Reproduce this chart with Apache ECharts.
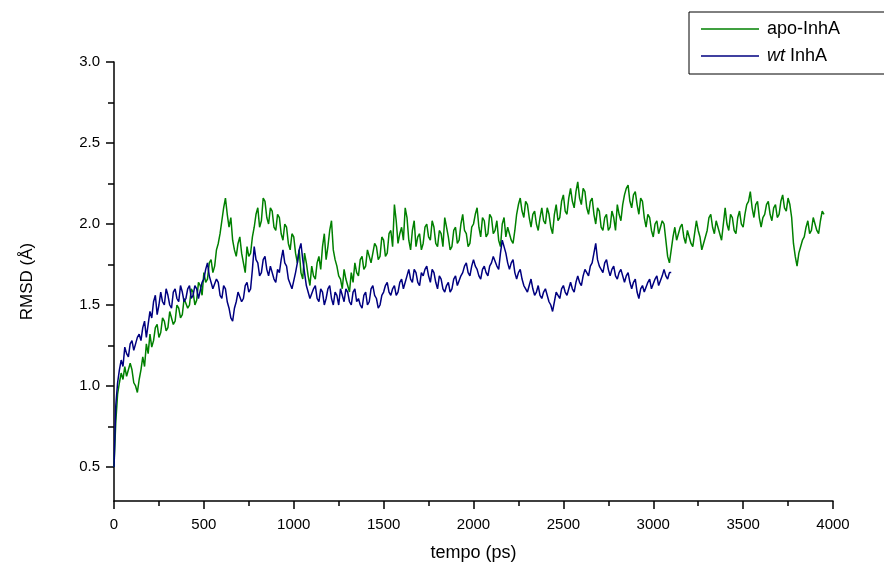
<!DOCTYPE html>
<html>
<head>
<meta charset="utf-8">
<script src="https://cdn.jsdelivr.net/npm/echarts@6/dist/echarts.min.js"></script>
<style>
  html, body { margin: 0; padding: 0; background: #fff; }
  #main { width: 884px; height: 567px; }
</style>
</head>
<body>
<div id="main"></div>
<script>
// RMSD (Å), one value every 10 ps
var timeStep = 10;

var apoInhA = [
  0.50, 0.78, 0.95, 1.02, 1.08, 1.04, 1.12, 1.06, 1.05, 1.14,
  1.10, 1.02, 1.00, 0.96, 1.04, 1.10, 1.18, 1.12, 1.26, 1.20,
  1.32, 1.24, 1.28, 1.36, 1.38, 1.30, 1.33, 1.42, 1.40, 1.34,
  1.36, 1.46, 1.45, 1.38, 1.40, 1.50, 1.48, 1.42, 1.44, 1.54,
  1.55, 1.48, 1.50, 1.60, 1.58, 1.50, 1.53, 1.64, 1.62, 1.56,
  1.70, 1.64, 1.66, 1.76, 1.78, 1.70, 1.74, 1.84, 1.88, 1.94,
  2.02, 2.10, 2.16, 2.06, 1.98, 2.04, 1.90, 1.84, 1.80, 1.88,
  1.92, 1.82, 1.76, 1.70, 1.86, 1.80, 1.82, 1.92, 1.98, 2.06,
  2.10, 1.98, 2.02, 2.16, 2.14, 2.04, 2.00, 2.10, 2.08, 1.98,
  1.96, 2.06, 2.04, 1.94, 1.90, 2.00, 1.98, 1.88, 1.84, 1.94,
  1.92, 1.82, 1.76, 1.84, 1.70, 1.66, 1.82, 1.76, 1.68, 1.62,
  1.74, 1.68, 1.66, 1.76, 1.80, 1.72, 1.86, 1.94, 1.78, 1.86,
  1.96, 2.02, 1.84, 1.78, 1.74, 1.68, 1.66, 1.60, 1.72, 1.66,
  1.62, 1.58, 1.70, 1.64, 1.76, 1.70, 1.68, 1.78, 1.80, 1.72,
  1.74, 1.84, 1.84, 1.76, 1.76, 1.88, 1.86, 1.78, 1.80, 1.92,
  1.90, 1.80, 1.82, 1.94, 1.96, 1.86, 2.12, 2.02, 1.88, 1.94,
  1.98, 1.90, 2.10, 2.04, 1.90, 1.84, 1.96, 2.02, 1.86, 1.92,
  1.94, 1.84, 1.88, 1.98, 2.00, 1.92, 1.90, 2.02, 1.98, 1.88,
  1.86, 1.96, 1.94, 1.86, 2.04, 1.98, 1.92, 1.84, 1.86, 1.96,
  1.98, 1.88, 1.90, 2.00, 2.06, 1.96, 1.94, 1.86, 1.88, 1.98,
  2.00, 2.06, 2.10, 1.98, 1.92, 2.04, 2.02, 1.92, 1.94, 2.06,
  2.04, 1.94, 1.96, 2.02, 1.90, 1.86, 2.00, 2.04, 1.92, 1.98,
  1.98, 1.90, 1.88, 1.96, 2.06, 2.12, 2.16, 2.08, 2.04, 2.14,
  2.12, 2.04, 1.98, 2.06, 2.08, 2.00, 1.96, 2.04, 2.10, 2.02,
  2.00, 2.10, 2.06, 1.98, 1.94, 2.06, 2.12, 2.02, 2.04, 2.14,
  2.18, 2.08, 2.06, 2.16, 2.22, 2.14, 2.10, 2.20, 2.26, 2.16,
  2.12, 2.22, 2.20, 2.10, 2.06, 2.14, 2.16, 2.06, 2.00, 2.10,
  2.08, 1.98, 1.96, 2.04, 2.06, 1.96, 1.98, 2.08, 2.04, 1.96,
  2.12, 2.06, 2.02, 2.12, 2.18, 2.22, 2.24, 2.14, 2.10, 2.18,
  2.20, 2.12, 2.06, 2.16, 2.14, 2.04, 1.98, 2.06, 2.04, 1.96,
  1.92, 2.00, 2.02, 1.94, 1.94, 2.02, 2.00, 1.90, 1.80, 1.76,
  1.84, 1.92, 1.98, 1.90, 1.90, 1.98, 2.00, 1.92, 1.88, 1.96,
  1.96, 1.88, 1.86, 1.94, 2.02, 1.96, 1.92, 1.84, 1.84, 1.92,
  1.96, 2.04, 2.06, 1.98, 1.94, 2.02, 2.02, 1.94, 1.90, 2.00,
  2.10, 2.00, 1.96, 2.06, 2.04, 1.96, 1.94, 2.04, 2.08, 2.00,
  1.98, 2.06, 2.12, 2.14, 2.20, 2.10, 2.04, 2.12, 2.14, 2.04,
  1.98, 2.04, 2.06, 2.12, 2.14, 2.06, 2.02, 2.10, 2.12, 2.04,
  2.06, 2.14, 2.18, 2.10, 2.08, 2.16, 2.12, 2.04, 1.88, 1.80,
  1.74, 1.82, 1.82, 1.90, 1.92, 1.98, 2.02, 1.94, 1.96, 2.04,
  2.04, 1.96, 1.94, 2.02, 2.08, 2.06
];

var wtInhA = [
  0.50, 0.88, 1.02, 1.10, 1.16, 1.12, 1.24, 1.20, 1.18, 1.26,
  1.28, 1.22, 1.22, 1.30, 1.32, 1.28, 1.36, 1.40, 1.30, 1.38,
  1.46, 1.42, 1.52, 1.56, 1.44, 1.50, 1.58, 1.52, 1.50, 1.60,
  1.56, 1.50, 1.48, 1.58, 1.60, 1.54, 1.52, 1.62, 1.58, 1.52,
  1.54, 1.60, 1.62, 1.54, 1.56, 1.62, 1.60, 1.54, 1.55, 1.64,
  1.66, 1.72, 1.76, 1.68, 1.68, 1.60, 1.60, 1.66, 1.64, 1.56,
  1.54, 1.62, 1.60, 1.52, 1.48, 1.42, 1.40, 1.48, 1.52, 1.58,
  1.58, 1.52, 1.54, 1.62, 1.64, 1.58, 1.60, 1.72, 1.86, 1.78,
  1.76, 1.68, 1.70, 1.78, 1.80, 1.72, 1.68, 1.74, 1.74, 1.66,
  1.64, 1.72, 1.70, 1.78, 1.84, 1.76, 1.74, 1.66, 1.66, 1.60,
  1.60, 1.70, 1.76, 1.84, 1.88, 1.78, 1.70, 1.62, 1.58, 1.54,
  1.54, 1.60, 1.62, 1.54, 1.52, 1.60, 1.58, 1.50, 1.54, 1.60,
  1.62, 1.54, 1.50, 1.58, 1.56, 1.50, 1.60, 1.56, 1.52, 1.60,
  1.58, 1.52, 1.50, 1.58, 1.60, 1.52, 1.54, 1.50, 1.48, 1.56,
  1.58, 1.50, 1.52, 1.60, 1.62, 1.56, 1.54, 1.48, 1.50, 1.56,
  1.58, 1.62, 1.64, 1.58, 1.56, 1.60, 1.62, 1.56, 1.58, 1.64,
  1.66, 1.60, 1.60, 1.68, 1.72, 1.66, 1.64, 1.72, 1.70, 1.64,
  1.62, 1.70, 1.68, 1.72, 1.74, 1.68, 1.64, 1.72, 1.70, 1.64,
  1.60, 1.68, 1.66, 1.60, 1.58, 1.62, 1.64, 1.58, 1.60, 1.66,
  1.68, 1.62, 1.62, 1.68, 1.70, 1.74, 1.76, 1.70, 1.68, 1.74,
  1.78, 1.74, 1.72, 1.68, 1.66, 1.72, 1.74, 1.70, 1.68, 1.74,
  1.76, 1.80, 1.80, 1.74, 1.72, 1.82, 1.90, 1.86, 1.82, 1.76,
  1.72, 1.76, 1.78, 1.70, 1.66, 1.70, 1.72, 1.66, 1.62, 1.60,
  1.58, 1.62, 1.66, 1.60, 1.56, 1.58, 1.62, 1.56, 1.54, 1.58,
  1.60, 1.56, 1.52, 1.50, 1.46, 1.52, 1.58, 1.56, 1.54, 1.60,
  1.62, 1.58, 1.56, 1.60, 1.64, 1.60, 1.58, 1.64, 1.68, 1.64,
  1.62, 1.68, 1.72, 1.70, 1.68, 1.74, 1.76, 1.82, 1.88, 1.78,
  1.74, 1.72, 1.70, 1.76, 1.78, 1.72, 1.68, 1.72, 1.74, 1.68,
  1.66, 1.70, 1.72, 1.68, 1.64, 1.68, 1.70, 1.64, 1.60, 1.64,
  1.66, 1.58, 1.54, 1.60, 1.62, 1.58, 1.58, 1.64, 1.66, 1.60,
  1.60, 1.66, 1.68, 1.62, 1.62, 1.68, 1.72, 1.68, 1.66, 1.70,
  1.70
];

var yLabels = [0.5, 1.0, 1.5, 2.0, 2.5, 3.0];
var yMinorTicks = [0.75, 1.25, 1.75, 2.25, 2.75];
var xMinorTicks = [250, 750, 1250, 1750, 2250, 2750, 3250, 3750];

function toPairs(values) {
  return values.map(function (v, i) { return [i * timeStep, v]; });
}

var axisBlack = { color: '#000', width: 1.5 };

var myChart = echarts.init(document.getElementById('main'));

myChart.setOption({
  animation: false,
  textStyle: { fontFamily: 'Liberation Sans' },
  grid: { left: 114, right: 51, top: 62, bottom: 66 },
  legend: {
    orient: 'vertical',
    left: 689,
    top: 12,
    padding: [8, 60, 9, 12],
    itemGap: 9,
    itemWidth: 58,
    itemHeight: 1.5,
    icon: 'rect',
    borderColor: '#000',
    borderWidth: 1,
    textStyle: {
      fontSize: 18,
      lineHeight: 18,
      color: '#000',
      padding: [0, 0, 0, 3],
      rich: {
        i: { fontStyle: 'italic', fontSize: 18, lineHeight: 18, color: '#000' }
      }
    },
    formatter: function (name) {
      return name === 'wt InhA' ? '{i|wt} InhA' : name;
    },
    data: ['apo-InhA', 'wt InhA']
  },
  xAxis: [
    {
      type: 'value',
      min: 0,
      max: 4000,
      interval: 500,
      name: 'tempo (ps)',
      nameLocation: 'middle',
      nameGap: 43,
      nameTextStyle: { fontSize: 18, color: '#000' },
      splitLine: { show: false },
      axisLine: { lineStyle: axisBlack },
      axisTick: { length: 8, lineStyle: axisBlack },
      axisLabel: {
        fontSize: 15,
        color: '#000',
        margin: 16,
        formatter: function (v) { return String(v); }
      }
    },
    {
      // minor ticks only
      type: 'value',
      min: 0,
      max: 4000,
      position: 'bottom',
      splitLine: { show: false },
      axisLine: { show: false },
      axisLabel: { show: false },
      axisTick: { customValues: xMinorTicks, length: 5, lineStyle: axisBlack }
    }
  ],
  yAxis: [
    {
      type: 'value',
      min: 0.29,
      max: 3.0,
      name: 'RMSD (Å)',
      nameLocation: 'middle',
      nameGap: 78,
      nameTextStyle: { fontSize: 17, color: '#000' },
      splitLine: { show: false },
      axisLine: { lineStyle: axisBlack },
      axisTick: { customValues: yLabels, length: 8, lineStyle: axisBlack },
      axisLabel: {
        customValues: yLabels,
        fontSize: 15,
        color: '#000',
        margin: 14,
        formatter: function (v) { return v.toFixed(1); }
      }
    },
    {
      // minor ticks only
      type: 'value',
      min: 0.29,
      max: 3.0,
      position: 'left',
      splitLine: { show: false },
      axisLine: { show: false },
      axisLabel: { show: false },
      axisTick: { customValues: yMinorTicks, length: 6, lineStyle: axisBlack }
    }
  ],
  series: [
    {
      name: 'apo-InhA',
      type: 'line',
      data: toPairs(apoInhA),
      showSymbol: false,
      lineStyle: { color: '#008000', width: 1.5 },
      itemStyle: { color: '#008000' },
      z: 2
    },
    {
      name: 'wt InhA',
      type: 'line',
      data: toPairs(wtInhA),
      showSymbol: false,
      lineStyle: { color: '#000080', width: 1.5 },
      itemStyle: { color: '#000080' },
      z: 3
    }
  ]
});
</script>
</body>
</html>
